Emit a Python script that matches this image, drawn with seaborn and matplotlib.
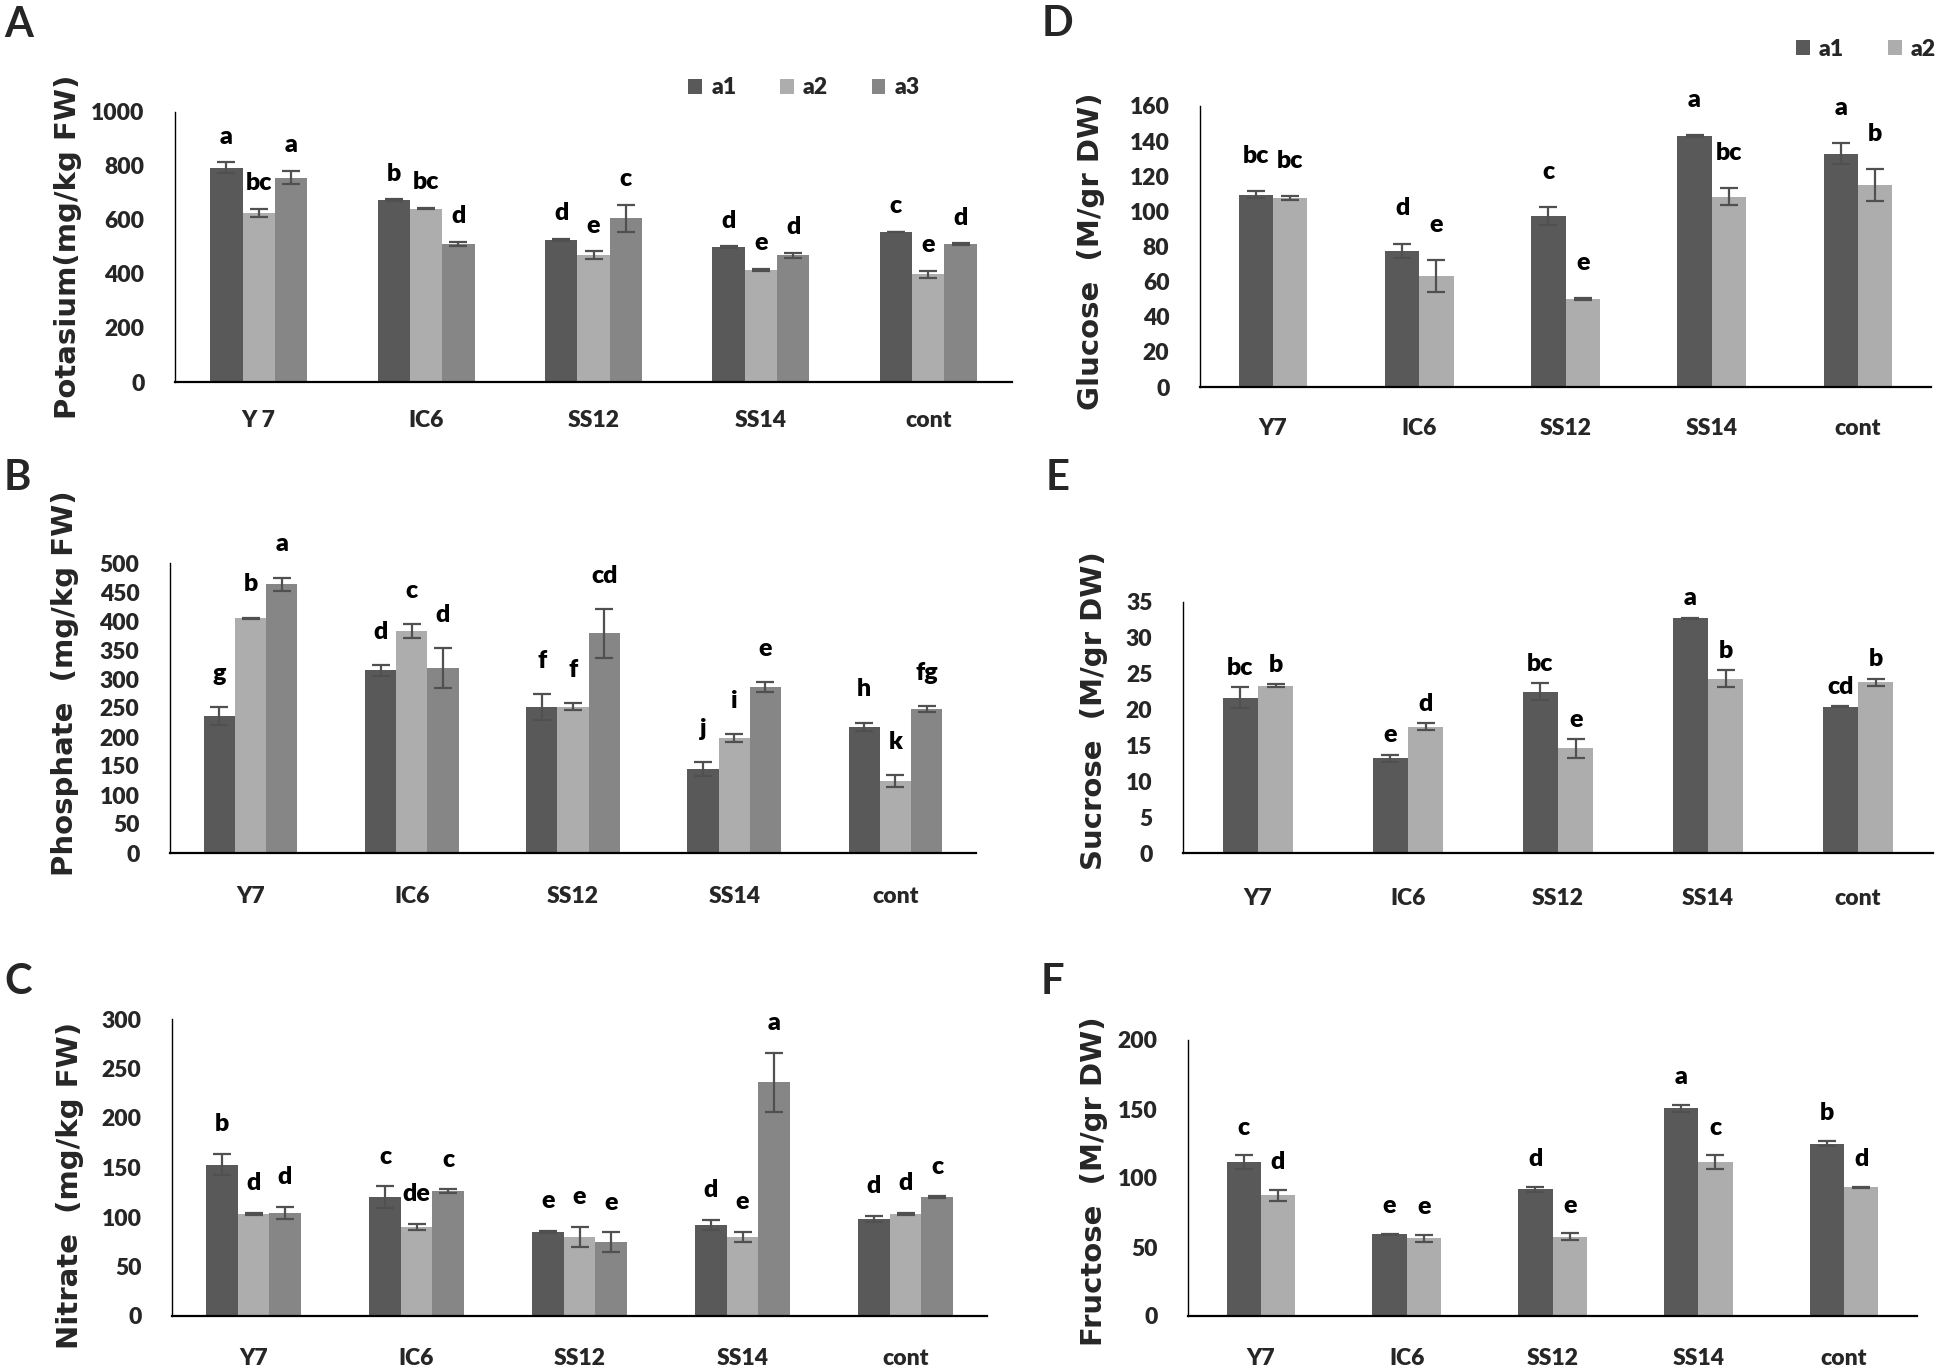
import numpy as np
import pandas as pd
import matplotlib
matplotlib.use("Agg")
import matplotlib.pyplot as plt
from matplotlib.patches import Patch
import seaborn as sns

# ---------------- data ----------------
categories_A = ["Y 7", "IC6", "SS12", "SS14", "cont"]
categories = ["Y7", "IC6", "SS12", "SS14", "cont"]
series3 = ["a1", "a2", "a3"]
series2 = ["a1", "a2"]

# A: Potassium
pot_a1 = [794, 673, 527, 500, 556]
pot_a2 = [627, 642, 469, 414, 399]
pot_a3 = [757, 512, 607, 469, 511]
pot_e1 = [19, 3, 3, 3, 0]
pot_e2 = [15, 3, 15, 4, 12]
pot_e3 = [25, 8, 50, 10, 2]
pot_l1 = ["a", "b", "d", "d", "c"]
pot_l2 = ["bc", "bc", "e", "e", "e"]
pot_l3 = ["a", "d", "c", "d", "d"]

# B: Phosphate
pho_a1 = [236, 315, 252, 145, 218]
pho_a2 = [405, 382, 252, 198, 124]
pho_a3 = [463, 319, 379, 286, 248]
pho_e1 = [16, 9, 22, 12, 7]
pho_e2 = [1, 12, 6, 7, 10]
pho_e3 = [12, 35, 42, 8, 5]
pho_l1 = ["g", "d", "f", "j", "h"]
pho_l2 = ["b", "c", "f", "i", "k"]
pho_l3 = ["a", "d", "cd", "e", "fg"]

# C: Nitrate
nit_a1 = [153, 120, 85, 92, 98]
nit_a2 = [103, 90, 80, 80, 103]
nit_a3 = [104, 126, 74.5, 236, 120]
nit_e1 = [11, 11, 1, 5, 3]
nit_e2 = [1, 3, 10, 5, 1]
nit_e3 = [6, 2, 10, 30, 1]
nit_l1 = ["b", "c", "e", "d", "d"]
nit_l2 = ["d", "de", "e", "e", "d"]
nit_l3 = ["d", "c", "e", "a", "c"]

# D: Glucose
glu_a1 = [109.4, 77.7, 97.4, 143, 132.7]
glu_a2 = [107.5, 63.3, 50, 108.4, 115]
glu_e1 = [2, 4, 5, 0.5, 6]
glu_e2 = [1, 9, 0.5, 5, 9]
glu_l1 = ["bc", "d", "c", "a", "a"]
glu_l2 = ["bc", "e", "e", "bc", "b"]

# E: Sucrose
suc_a1 = [21.65, 13.2, 22.5, 32.7, 20.4]
suc_a2 = [23.3, 17.6, 14.6, 24.3, 23.8]
suc_e1 = [1.5, 0.5, 1.2, 0.1, 0.1]
suc_e2 = [0.2, 0.5, 1.3, 1.2, 0.5]
suc_l1 = ["bc", "e", "bc", "a", "cd"]
suc_l2 = ["b", "d", "e", "b", "b"]

# F: Fructose
fru_a1 = [111.4, 59.2, 91.8, 150.5, 125]
fru_a2 = [87.4, 56.3, 57.5, 111.4, 93.2]
fru_e1 = [5, 0.5, 2, 2.5, 2]
fru_e2 = [4, 2.5, 2.5, 5, 0.5]
fru_l1 = ["c", "e", "d", "a", "b"]
fru_l2 = ["d", "e", "e", "c", "d"]

# ---------------- style ----------------
sns.set_style("white")
plt.rcParams["font.family"] = ["Lato", "DejaVu Sans"]

colors = {"a1": "#595959", "a2": "#adadad", "a3": "#868686"}
W, H = 1944, 1369
fig = plt.figure(figsize=(W / 100, H / 100), dpi=100)

TICK_FS = 16.5
LET_FS = 18
LAB_FS = 21
HEAVY = "heavy"


def rect(l, r, t, b):
    return [l / W, 1 - b / H, (r - l) / W, (b - t) / H]


def panel(box, cats, series, vals, errs, lets, ymax, ystep, width, ylabel,
          lab_xy, letter_off, xpad):
    ax = fig.add_axes(rect(*box))
    rows = []
    for s, v in zip(series, vals):
        for c, y in zip(cats, v):
            rows.append({"cat": c, "series": s, "value": y})
    df = pd.DataFrame(rows)
    sns.barplot(data=df, x="cat", y="value", hue="series", order=cats,
                hue_order=series, palette=colors, width=width, errorbar=None,
                saturation=1, legend=False, ax=ax, linewidth=0)
    for cont, e, l in zip(ax.containers, errs, lets):
        xs = [p.get_x() + p.get_width() / 2 for p in cont]
        hs = [p.get_height() for p in cont]
        ax.errorbar(xs, hs, yerr=e, fmt="none", ecolor="#505050",
                    elinewidth=1.6, capsize=6.5, capthick=1.6)
        for x, h, ee, t in zip(xs, hs, e, l):
            ax.text(x, h + ee + letter_off, t, ha="center", va="center",
                    fontsize=LET_FS, fontweight=HEAVY, color="black")
    ax.set_xlim(-0.5, len(cats) - 0.5)
    ax.set_ylim(0, ymax)
    ax.set_yticks(np.arange(0, ymax + ystep / 2, ystep))
    ax.set_xlabel("")
    ax.set_ylabel(ylabel, fontsize=LAB_FS, fontweight="bold",
                  family="DejaVu Sans", va="center")
    ax.yaxis.set_label_coords(*lab_xy)
    ax.tick_params(axis="y", length=0, pad=22, labelsize=TICK_FS)
    ax.tick_params(axis="x", length=0, pad=xpad, labelsize=TICK_FS)
    for t in ax.get_xticklabels() + ax.get_yticklabels():
        t.set_fontweight(HEAVY)
    for s in ["top", "right"]:
        ax.spines[s].set_visible(False)
    ax.spines["left"].set_linewidth(1.0)
    ax.spines["bottom"].set_linewidth(1.6)
    ax.spines["left"].set_color("black")
    ax.spines["bottom"].set_color("black")
    ax.grid(False)
    return ax


panel((175, 1012, 112, 382), categories_A, series3,
      [pot_a1, pot_a2, pot_a3], [pot_e1, pot_e2, pot_e3],
      [pot_l1, pot_l2, pot_l3], 1000, 200, 0.58, "Potasium(mg/kg FW)",
      (-0.128, 0.5), 95, 20)
panel((170, 976, 563, 853), categories, series3,
      [pho_a1, pho_a2, pho_a3], [pho_e1, pho_e2, pho_e3],
      [pho_l1, pho_l2, pho_l3], 500, 50, 0.58, "Phosphate  (mg/kg FW)",
      (-0.130, 0.586), 57, 24)
panel((172, 987, 1019, 1316), categories, series3,
      [nit_a1, nit_a2, nit_a3], [nit_e1, nit_e2, nit_e3],
      [nit_l1, nit_l2, nit_l3], 300, 50, 0.58, "Nitrate  (mg/kg FW)",
      (-0.125, 0.44), 30, 23)
panel((1200, 1931, 106, 387), categories, series2,
      [glu_a1, glu_a2], [glu_e1, glu_e2], [glu_l1, glu_l2],
      160, 20, 0.47, "Glucose  (M/gr DW)", (-0.149, 0.484), 20, 22)
panel((1183, 1933, 602, 853), categories, series2,
      [suc_a1, suc_a2], [suc_e1, suc_e2], [suc_l1, suc_l2],
      35, 5, 0.47, "Sucrose  (M/gr DW)", (-0.119, 0.566), 2.7, 25)
panel((1188, 1917, 1040, 1316), categories, series2,
      [fru_a1, fru_a2], [fru_e1, fru_e2], [fru_l1, fru_l2],
      200, 50, 0.47, "Fructose  (M/gr DW)", (-0.129, 0.489), 20, 23)

# legends
def legend(series, cx, cy):
    handles = [Patch(facecolor=colors[s], edgecolor="none", label=s) for s in series]
    leg = fig.legend(handles=handles, loc="center", ncol=len(series),
                     bbox_to_anchor=(cx / W, 1 - cy / H), frameon=False,
                     handlelength=0.6, handleheight=0.6, handletextpad=0.4,
                     columnspacing=1.9, prop={"size": TICK_FS, "weight": HEAVY})
    return leg

legend(series3, 804, 88)
legend(series2, 1866, 49)

# panel letters
for lab, x, y in [("A", 4, 25), ("B", 4, 478), ("C", 4, 982),
                  ("D", 1042, 24), ("E", 1046, 478), ("F", 1041, 982)]:
    fig.text(x / W, 1 - y / H, lab, fontsize=30, ha="left", va="center",
             fontweight="bold")

fig.savefig("out.png", dpi=100)
